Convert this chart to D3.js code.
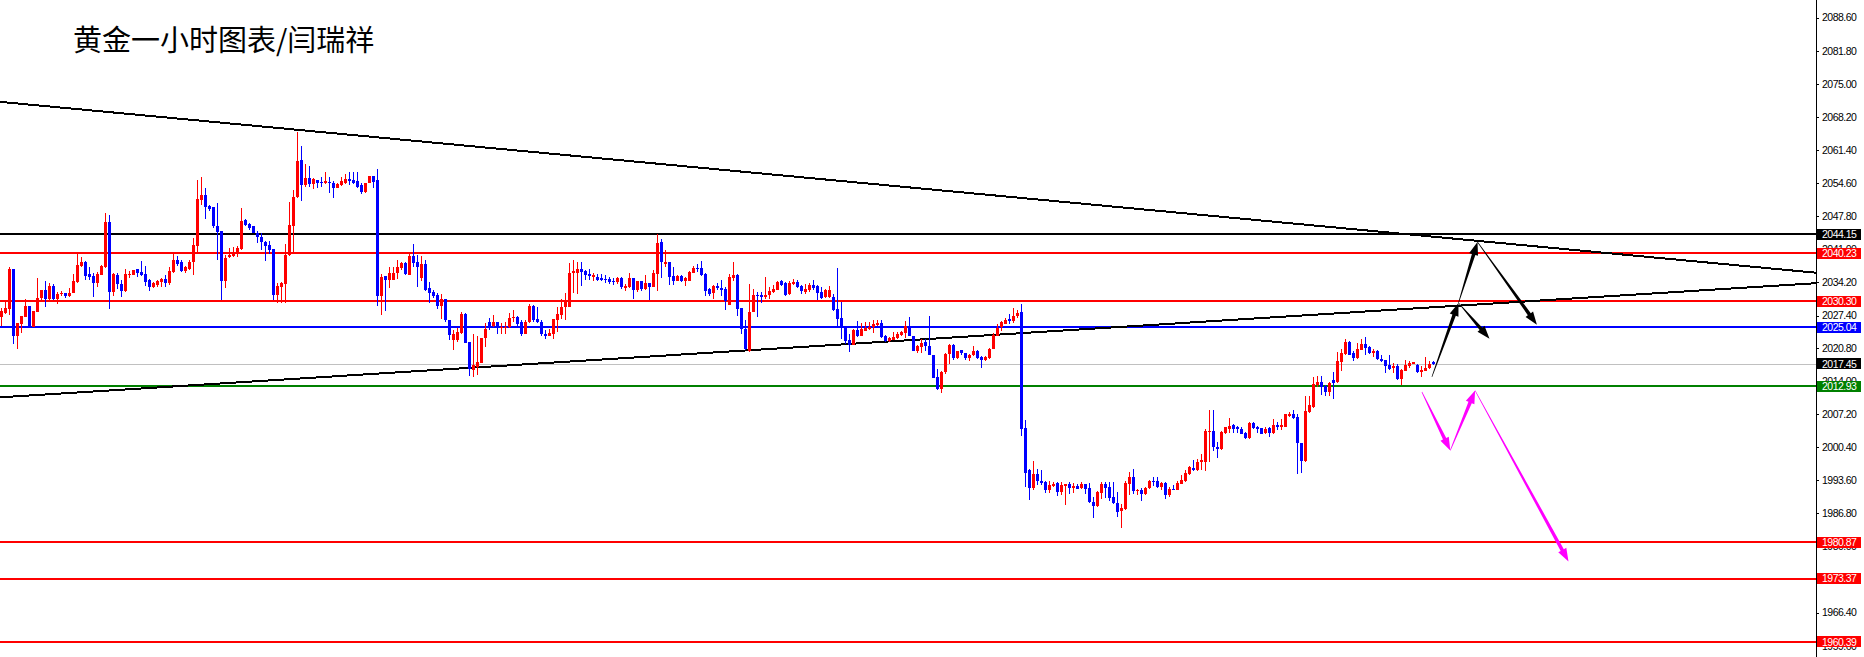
<!DOCTYPE html>
<html><head><meta charset="utf-8">
<script src="https://cdn.jsdelivr.net/npm/d3@7"></script>
<style>html,body{margin:0;padding:0;background:#fff;overflow:hidden}</style>
</head><body><svg id="c" width="1864" height="657"></svg>
<script>
const title = "黄金一小时图表/闫瑞祥";

const openP = [
2027.2,2028.0,2028.7,2037.0,2023.1,2025.7,2027.2,2029.4,2025.1,2028.1,
2031.0,2032.6,2030.8,2033.5,2030.8,2031.8,2032.1,2031.4,2032.0,2034.3,
2037.6,2038.3,2035.9,2035.5,2034.0,2035.8,2037.4,2046.7,2032.3,2035.7,
2033.9,2032.5,2035.7,2035.8,2036.9,2036.3,2035.9,2034.8,2033.3,2033.7,
2034.2,2035.0,2034.0,2036.3,2038.9,2038.3,2036.6,2037.0,2038.3,2041.7,
2051.1,2052.2,2049.9,2049.6,2045.8,2044.8,2034.5,2039.4,2039.6,2040.2,
2041.0,2047.0,2046.2,2045.7,2044.4,2043.6,2042.6,2041.9,2041.0,2031.7,
2033.2,2033.9,2039.8,2045.8,2051.7,2059.4,2054.2,2055.6,2054.4,2055.2,
2054.9,2054.7,2054.9,2054.7,2053.5,2054.2,2054.6,2055.5,2055.2,2055.1,
2054.2,2052.8,2054.6,2056.1,2055.2,2031.5,2035.5,2034.7,2034.8,2036.1,
2037.1,2038.1,2035.7,2039.6,2038.5,2035.1,2038.0,2033.0,2032.3,2031.6,
2029.4,2030.9,2026.5,2022.4,2022.4,2023.9,2027.7,2022.0,2016.2,2016.9,
2017.6,2022.7,2026.1,2025.3,2026.0,2024.8,2024.8,2025.1,2026.8,2027.2,
2026.1,2023.6,2026.1,2029.4,2026.6,2026.1,2023.7,2023.2,2023.6,2026.5,
2027.5,2029.1,2029.1,2036.1,2036.2,2036.9,2036.6,2035.9,2035.3,2035.4,
2035.2,2035.0,2034.9,2034.4,2034.2,2035.2,2033.0,2033.3,2035.2,2032.7,
2034.4,2032.9,2034.0,2033.3,2035.9,2042.6,2038.0,2038.5,2035.5,2034.6,
2035.6,2034.6,2034.6,2036.2,2037.2,2037.2,2035.9,2032.8,2032.0,2033.5,
2033.1,2032.8,2029.5,2035.2,2035.8,2028.9,2024.7,2020.2,2028.1,2031.7,
2031.7,2031.3,2031.7,2032.2,2032.6,2034.4,2034.1,2031.9,2033.8,2034.3,
2033.4,2032.2,2032.6,2033.6,2033.4,2032.2,2031.2,2031.2,2031.3,2028.7,
2026.9,2025.0,2022.3,2021.3,2024.5,2023.3,2024.3,2024.7,2025.0,2025.4,
2025.8,2023.1,2022.2,2022.4,2022.8,2023.5,2023.8,2025.3,2023.3,2020.2,
2020.9,2021.9,2021.2,2019.2,2014.8,2012.4,2015.8,2019.5,2021.3,2018.7,
2020.3,2019.7,2018.7,2019.2,2020.1,2018.9,2018.2,2018.7,2020.6,2023.3,
2025.0,2025.7,2026.6,2026.3,2027.3,2028.1,2004.3,1995.6,1992.0,1994.8,
1993.5,1993.3,1991.5,1992.4,1993.1,1991.1,1992.4,1992.7,1992.0,1992.4,
1992.0,1992.7,1992.0,1989.2,1988.3,1990.9,1992.9,1992.2,1990.1,1989.0,
1987.2,1987.6,1992.9,1994.2,1991.3,1991.6,1990.7,1992.0,1993.5,1993.5,
1992.2,1993.0,1990.5,1991.8,1991.6,1992.9,1993.5,1994.8,1996.1,1995.6,
1997.3,1997.3,2003.5,2003.6,2000.5,1999.9,2003.3,2004.2,2005.0,2004.5,
2004.1,2003.3,2002.3,2005.3,2004.5,2004.3,2003.3,2004.3,2003.3,2005.0,
2004.6,2004.6,2006.8,2007.1,2006.6,2001.3,1997.6,2007.6,2008.7,2013.1,
2013.7,2012.9,2011.7,2014.1,2013.7,2017.9,2019.6,2022.0,2019.7,2018.7,
2020.4,2021.5,2020.9,2019.7,2020.1,2018.5,2018.2,2017.2,2016.6,2017.0,
2014.4,2016.1,2017.0,2017.5,2017.2,2015.8,2016.1,2016.6,2017.9];

const highP = [
2028.9,2030.2,2037.4,2037.0,2025.9,2027.3,2030.9,2029.4,2028.4,2035.1,
2032.6,2034.5,2034.0,2033.9,2032.3,2032.5,2032.1,2033.0,2035.9,2040.0,
2039.5,2038.7,2037.4,2036.1,2036.4,2037.8,2048.4,2048.1,2036.1,2036.1,
2034.7,2036.9,2036.6,2036.8,2037.0,2038.6,2037.6,2035.0,2034.2,2034.7,
2035.1,2035.7,2037.4,2040.2,2039.6,2038.8,2037.6,2038.8,2043.3,2055.2,
2055.8,2053.5,2050.1,2049.6,2050.6,2044.8,2039.8,2041.2,2041.5,2041.7,
2049.4,2047.3,2046.5,2045.8,2044.8,2044.3,2042.8,2042.8,2041.0,2034.0,
2034.3,2042.0,2050.8,2053.1,2065.0,2062.2,2058.5,2058.1,2055.6,2055.2,
2055.9,2056.8,2055.9,2055.1,2054.7,2055.8,2056.5,2056.8,2056.8,2056.8,
2054.6,2054.7,2056.1,2056.1,2057.5,2035.9,2035.6,2037.4,2037.4,2038.8,
2038.5,2038.5,2040.2,2042.1,2039.8,2039.6,2038.8,2034.3,2032.6,2032.0,
2031.8,2030.9,2026.5,2024.4,2024.8,2028.2,2028.0,2022.0,2023.7,2023.1,
2022.7,2025.8,2026.8,2027.5,2026.1,2025.8,2026.1,2028.0,2028.5,2027.3,
2026.5,2026.4,2029.8,2029.6,2029.1,2026.4,2024.4,2024.6,2026.6,2029.2,
2030.9,2032.0,2038.1,2038.8,2038.5,2038.3,2036.8,2036.9,2036.1,2035.9,
2035.9,2035.7,2035.4,2035.1,2035.4,2035.4,2033.9,2036.2,2035.2,2034.6,
2034.4,2035.7,2034.0,2036.8,2044.2,2043.1,2040.9,2038.5,2037.4,2035.7,
2035.7,2035.4,2036.6,2037.6,2038.0,2038.7,2036.1,2033.0,2033.6,2034.0,
2034.8,2033.2,2036.0,2038.3,2036.0,2028.9,2026.4,2033.9,2032.9,2032.2,
2032.2,2035.3,2033.2,2033.6,2034.5,2034.8,2034.3,2034.6,2035.0,2034.8,
2033.6,2033.9,2034.1,2034.8,2033.7,2033.2,2032.9,2033.4,2031.9,2037.1,
2030.2,2025.2,2023.7,2024.6,2026.2,2025.8,2026.1,2026.1,2026.5,2026.4,
2026.4,2023.4,2023.0,2024.0,2024.0,2024.3,2026.3,2027.1,2023.3,2021.3,
2022.6,2022.6,2027.4,2019.2,2016.5,2016.1,2019.7,2021.5,2021.5,2020.2,
2020.4,2019.7,2019.6,2021.1,2020.3,2019.0,2019.0,2020.7,2023.9,2025.6,
2026.3,2027.0,2027.8,2029.0,2028.6,2029.7,2005.9,1995.9,1997.6,1995.8,
1995.6,1993.5,1993.5,1993.3,1993.2,1993.2,1992.9,1993.2,1993.0,1992.9,
1993.2,1992.9,1993.0,1990.1,1991.3,1993.2,1993.2,1993.2,1993.2,1991.1,
1988.7,1993.5,1995.3,1995.9,1991.8,1992.0,1992.2,1993.7,1994.2,1994.2,
1993.2,1993.2,1992.2,1992.6,1993.4,1994.6,1995.7,1996.4,1997.8,1998.0,
1999.0,2004.2,2008.1,2007.9,2001.4,2003.7,2004.6,2006.3,2005.2,2004.8,
2004.5,2003.5,2005.5,2005.5,2004.8,2004.4,2004.6,2004.6,2006.2,2005.5,
2006.1,2007.2,2007.6,2007.9,2007.2,2001.3,2010.8,2010.8,2014.8,2014.9,
2014.9,2013.1,2013.7,2015.9,2019.9,2020.5,2022.6,2022.2,2020.1,2021.8,
2022.6,2023.0,2021.1,2020.5,2020.3,2019.2,2018.3,2019.2,2017.6,2017.4,
2016.5,2018.3,2018.1,2017.9,2017.5,2017.0,2018.9,2018.1,2018.1];

const lowP = [
2025.2,2027.8,2027.6,2021.5,2020.5,2023.9,2027.2,2025.1,2025.1,2028.1,
2030.6,2029.2,2030.6,2030.6,2029.7,2031.4,2031.1,2031.3,2032.0,2034.0,
2037.4,2034.8,2034.7,2031.3,2033.3,2035.7,2037.1,2028.8,2031.4,2032.8,
2031.3,2032.3,2035.2,2035.7,2035.4,2035.6,2033.5,2032.5,2033.0,2033.3,
2033.3,2033.3,2033.7,2036.1,2037.6,2036.3,2036.1,2036.8,2035.7,2040.5,
2050.2,2047.2,2048.9,2045.3,2038.9,2030.6,2033.1,2039.2,2039.5,2039.4,
2040.9,2045.8,2045.0,2044.3,2042.4,2040.9,2038.7,2040.0,2030.6,2029.9,
2030.0,2030.0,2039.6,2040.2,2051.5,2050.9,2053.9,2053.9,2053.3,2053.5,
2053.9,2054.4,2052.6,2051.6,2053.5,2054.0,2054.4,2054.2,2054.4,2053.5,
2052.4,2052.5,2054.6,2053.5,2029.4,2027.5,2028.4,2033.0,2034.7,2035.0,
2036.8,2035.7,2035.7,2037.4,2033.3,2034.4,2032.5,2030.0,2031.1,2028.7,
2026.6,2026.1,2022.4,2020.3,2022.0,2023.7,2021.7,2015.0,2014.8,2015.2,
2017.6,2021.0,2024.4,2025.1,2023.6,2023.7,2023.6,2024.8,2026.1,2025.1,
2023.2,2023.6,2025.9,2026.1,2025.9,2023.2,2022.6,2023.1,2022.6,2024.1,
2026.6,2026.5,2029.1,2032.0,2031.8,2033.5,2034.7,2034.8,2034.6,2034.4,
2034.6,2034.0,2033.9,2033.7,2033.9,2032.8,2032.5,2033.1,2030.9,2032.3,
2032.5,2032.7,2030.6,2033.2,2032.5,2035.1,2037.4,2033.7,2033.7,2034.4,
2034.2,2033.5,2034.4,2036.1,2036.4,2035.6,2031.4,2031.4,2030.9,2032.7,
2031.5,2028.5,2029.5,2034.5,2027.4,2023.7,2020.4,2019.9,2028.1,2027.2,
2030.0,2030.8,2030.8,2032.0,2032.6,2033.4,2031.5,2031.7,2033.6,2033.1,
2031.9,2031.9,2032.2,2032.7,2030.5,2030.8,2031.1,2031.1,2028.3,2025.0,
2022.6,2021.6,2019.9,2021.3,2023.0,2023.1,2024.2,2024.5,2023.8,2025.2,
2022.8,2021.9,2021.9,2022.3,2022.6,2023.1,2022.8,2023.1,2020.1,2019.7,
2019.7,2020.1,2019.2,2014.6,2012.2,2011.5,2015.4,2017.4,2018.3,2018.5,
2019.4,2018.2,2018.1,2019.0,2018.5,2016.6,2018.1,2018.5,2020.5,2023.1,
2024.2,2025.6,2025.6,2025.9,2027.0,2002.6,1992.2,1989.6,1991.5,1992.5,
1992.5,1990.9,1990.9,1992.2,1990.3,1990.5,1988.5,1990.8,1990.9,1991.7,
1991.8,1990.8,1989.0,1985.9,1988.1,1989.8,1990.0,1989.4,1988.6,1986.1,
1983.7,1987.4,1990.5,1990.7,1990.5,1989.3,1990.5,1991.8,1992.3,1992.0,
1991.6,1989.8,1990.1,1991.5,1991.5,1992.7,1993.2,1994.6,1995.5,1995.5,
1995.6,1995.5,1997.3,1999.6,1998.2,1999.7,2003.1,2003.3,2003.3,2003.3,
2003.0,2002.1,2002.1,2004.1,2003.3,2003.0,2003.1,2002.4,2003.1,2003.8,
2003.8,2004.5,2006.6,2006.2,1994.8,1995.0,1997.3,2007.4,2008.5,2012.7,
2011.0,2010.9,2010.9,2010.2,2013.5,2016.0,2019.4,2019.2,2018.1,2018.5,
2020.3,2019.4,2019.6,2018.9,2018.3,2017.9,2015.6,2016.3,2015.6,2014.2,
2013.1,2016.0,2016.7,2017.4,2015.6,2014.8,2016.0,2016.5,2017.2];

const closeP = [
2028.4,2029.0,2037.0,2023.1,2025.9,2027.3,2029.4,2025.1,2028.4,2031.0,
2032.6,2030.8,2033.5,2030.8,2031.8,2032.1,2031.5,2032.0,2034.4,2037.8,
2038.3,2035.6,2035.4,2034.0,2035.9,2037.6,2046.7,2032.3,2035.9,2033.8,
2032.5,2035.9,2035.9,2036.7,2036.1,2035.7,2034.3,2033.3,2034.0,2034.5,
2034.9,2034.0,2036.5,2038.9,2038.0,2036.6,2037.3,2038.5,2041.9,2051.3,
2052.2,2049.8,2049.2,2045.8,2044.6,2034.5,2039.3,2039.8,2040.3,2041.3,
2046.8,2046.0,2045.3,2044.4,2043.5,2042.6,2041.7,2040.9,2031.7,2033.5,
2034.0,2039.8,2045.9,2051.7,2059.2,2054.2,2055.6,2054.4,2055.5,2054.7,
2054.7,2055.0,2054.6,2053.5,2054.4,2055.1,2055.5,2055.0,2054.7,2053.9,
2052.8,2054.6,2056.1,2054.9,2031.5,2035.4,2034.7,2036.1,2036.2,2037.4,
2038.1,2035.9,2039.6,2038.1,2037.3,2038.0,2032.6,2032.0,2031.4,2029.4,
2030.9,2026.5,2023.4,2023.7,2024.1,2027.7,2021.8,2016.5,2017.2,2017.9,
2022.7,2024.6,2025.1,2026.1,2024.8,2025.0,2025.1,2026.8,2027.2,2025.7,
2023.6,2026.1,2029.4,2026.4,2026.1,2023.6,2023.3,2023.9,2026.6,2027.7,
2029.2,2030.6,2036.2,2036.6,2037.0,2036.4,2035.7,2035.5,2035.7,2034.8,
2034.8,2034.7,2034.2,2034.2,2035.2,2033.2,2033.5,2035.2,2032.7,2034.4,
2032.9,2034.0,2033.3,2036.2,2042.4,2038.3,2038.3,2035.4,2034.6,2035.5,
2034.6,2035.2,2036.4,2037.2,2037.0,2035.7,2032.5,2031.8,2033.5,2033.0,
2032.6,2030.4,2035.3,2035.8,2028.8,2024.7,2020.6,2028.1,2031.7,2031.4,
2031.3,2031.7,2032.4,2032.8,2034.2,2033.7,2031.7,2034.1,2034.3,2033.2,
2032.4,2032.8,2033.6,2033.1,2032.1,2031.1,2032.6,2032.7,2028.5,2026.6,
2024.9,2022.2,2021.3,2024.5,2023.3,2024.7,2024.9,2025.0,2025.6,2025.8,
2023.0,2022.2,2022.8,2023.0,2023.7,2024.0,2025.3,2023.3,2020.2,2021.1,
2021.7,2021.1,2019.2,2014.6,2012.4,2015.9,2019.5,2021.3,2018.7,2020.2,
2019.7,2018.7,2019.4,2020.1,2018.7,2018.3,2018.9,2020.6,2023.5,2024.9,
2026.0,2026.4,2026.3,2027.4,2028.0,2004.2,1995.0,1992.0,1994.8,1993.4,
1993.1,1991.5,1992.5,1992.9,1991.1,1992.5,1992.7,1992.0,1992.4,1991.8,
1992.9,1991.8,1989.1,1988.3,1991.1,1992.9,1992.0,1990.0,1988.9,1987.0,
1987.8,1993.0,1994.2,1991.3,1991.6,1990.7,1992.0,1993.5,1993.4,1992.2,
1993.0,1990.6,1991.8,1991.5,1993.1,1993.7,1995.0,1996.2,1995.6,1997.4,
1997.8,2003.6,2003.6,2000.5,2000.0,2003.5,2004.5,2004.8,2004.1,2004.0,
2003.1,2002.3,2005.3,2004.3,2004.2,2003.1,2004.2,2003.3,2005.0,2004.6,
2005.0,2007.1,2007.1,2006.4,2001.2,1997.5,2007.7,2009.0,2013.3,2013.7,
2012.7,2011.7,2013.5,2013.5,2018.0,2019.7,2022.0,2019.4,2018.7,2020.5,
2021.5,2020.7,2019.7,2020.1,2018.4,2018.1,2017.0,2016.5,2017.0,2014.4,
2016.3,2017.2,2017.6,2017.8,2015.8,2016.3,2016.7,2017.4,2017.45];

const tickValues = [2088.60,2081.80,2075.00,2068.20,2061.40,2054.60,2047.80,2041.00,2034.20,2027.40,
  2020.80,2014.00,2007.20,2000.40,1993.60,1986.80,1980.00,1973.20,1966.40,1959.60];

const levelValues = [2044.15, 2040.23, 2030.30, 2025.04, 2017.45, 2012.93, 1980.87, 1973.37, 1960.39];
const levelNames  = ["resistB", "resist1", "resist2", "pivot", "bid", "support", "target1", "target2", "target3"];

// trend lines: [bar index, price] pairs
const trendDown = [[-0.375, 2071.3], [453.625, 2036.2]];
const trendUp   = [[-0.375, 2010.6], [453.625, 2034.05]];

// forecast arrows: [fromIndex, fromPrice, toIndex, toPrice]
const blackArrows = [
  [357.6, 2014.8, 364.25, 2030.0],
  [364.25, 2030.0, 369.0, 2042.5],
  [369.0, 2042.5, 383.85, 2025.5],
  [364.25, 2030.0, 372.0, 2022.65]
];
const magentaArrows = [
  [355.1, 2011.7, 362.2, 1999.7],
  [362.2, 1999.7, 368.4, 2012.0],
  [368.4, 2012.0, 391.75, 1976.9]
];

// ---------- drawing ----------
const W = 1864, H = 657, axisX = 1816;
const N = closeP.length;
const svg = d3.select("#c");
const x = d3.scaleLinear().domain([0, N - 1]).range([1.5, 1.5 + 4 * (N - 1)]);
const y = d3.scaleLinear().domain([1960.39, 2088.60]).range([641.8, 17.6]);

const levelStyle = {
  resistB: {stroke: "#000000", w: 2, box: "#000000"},
  resist1: {stroke: "#ff0000", w: 2, box: "#ff0000"},
  resist2: {stroke: "#ff0000", w: 2, box: "#ff0000"},
  pivot:   {stroke: "#0000ff", w: 2, box: "#0000ff"},
  bid:     {stroke: "#c0c0c0", w: 1, box: "#000000"},
  support: {stroke: "#008000", w: 2, box: "#008000"},
  target1: {stroke: "#ff0000", w: 2, box: "#ff0000"},
  target2: {stroke: "#ff0000", w: 2, box: "#ff0000"},
  target3: {stroke: "#ff0000", w: 2, box: "#ff0000"}
};

// title
svg.append("text").attr("x", 73).attr("y", 51)
  .attr("font-family", "'Noto Sans CJK SC','Noto Sans CJK JP',sans-serif")
  .attr("font-size", 29).attr("fill", "#000").text(title);

// horizontal levels
const levels = svg.append("g").attr("shape-rendering", "crispEdges");
levelValues.forEach((v, k) => {
  const s = levelStyle[levelNames[k]];
  const yy = s.w === 2 ? Math.round(y(v)) : Math.round(y(v)) + 0.5;
  levels.append("line").attr("x1", 0).attr("x2", axisX)
    .attr("y1", yy).attr("y2", yy)
    .attr("stroke", s.stroke).attr("stroke-width", s.w);
});

// trend lines
const lineGen = d3.line().x(d => x(d[0])).y(d => y(d[1]));
[trendDown, trendUp].forEach(t => {
  svg.append("path").attr("d", lineGen(t)).attr("fill", "none")
    .attr("stroke", "#000").attr("stroke-width", 2).attr("shape-rendering", "crispEdges");
});

// candles
const idx = d3.range(N);
const col = i => closeP[i] >= openP[i] ? "#ff0000" : "#0000ff";
const cg = svg.append("g").attr("shape-rendering", "crispEdges");
cg.selectAll("rect.w").data(idx).join("rect").attr("class", "w")
  .attr("x", i => Math.round(x(i) - 0.5)).attr("width", 1)
  .attr("y", i => y(highP[i]))
  .attr("height", i => Math.max(1, y(lowP[i]) - y(highP[i])))
  .attr("fill", col);
cg.selectAll("rect.b").data(idx).join("rect").attr("class", "b")
  .attr("x", i => Math.round(x(i) - 1.5)).attr("width", 3)
  .attr("y", i => y(Math.max(openP[i], closeP[i])))
  .attr("height", i => Math.max(1, Math.abs(y(openP[i]) - y(closeP[i]))))
  .attr("fill", col);

// arrows
function arrowPath(a) {
  const x0 = x(a[0]), y0 = y(a[1]), x1 = x(a[2]), y1 = y(a[3]);
  const dx = x1 - x0, dy = y1 - y0, L = Math.hypot(dx, dy);
  const ux = dx / L, uy = dy / L, nx = -uy, ny = ux;
  const hl = 13, hw = 4.6, sw = 1.8, tw = 0.3;
  const bx = x1 - ux * hl, by = y1 - uy * hl;
  const pts = [[x0 + nx * tw, y0 + ny * tw], [bx + nx * sw, by + ny * sw], [bx + nx * hw, by + ny * hw],
    [x1, y1], [bx - nx * hw, by - ny * hw], [bx - nx * sw, by - ny * sw], [x0 - nx * tw, y0 - ny * tw]];
  return d3.line()(pts) + "Z";
}
svg.append("g").selectAll("path").data(blackArrows).join("path")
  .attr("d", arrowPath).attr("fill", "#000");
svg.append("g").selectAll("path").data(magentaArrows).join("path")
  .attr("d", arrowPath).attr("fill", "#ff00ff");

// right price axis
const axis = d3.axisRight(y).tickValues(tickValues).tickFormat(d3.format(".2f")).tickSize(3).tickPadding(3);
const ag = svg.append("g").attr("transform", `translate(${axisX},0)`).call(axis);
ag.select(".domain").remove();
ag.selectAll("text").attr("font-family", "'Liberation Sans',Arial,sans-serif").attr("font-size", 10.5)
  .attr("letter-spacing", "-0.5").attr("fill", "#000");
ag.selectAll("line").attr("stroke", "#000").attr("shape-rendering", "crispEdges");
svg.append("line").attr("x1", axisX + 0.5).attr("x2", axisX + 0.5).attr("y1", 0).attr("y2", H)
  .attr("stroke", "#000").attr("stroke-width", 1);

// price labels
const pl = svg.append("g");
levelValues.forEach((v, k) => {
  const s = levelStyle[levelNames[k]];
  pl.append("rect").attr("x", axisX + 1).attr("y", Math.round(y(v) - 5.5)).attr("width", 44).attr("height", 11)
    .attr("fill", s.box).attr("shape-rendering", "crispEdges");
  pl.append("text").attr("x", axisX + 6).attr("y", y(v)).attr("dy", "0.36em")
    .attr("font-family", "'Liberation Sans',Arial,sans-serif").attr("font-size", 10.5)
    .attr("letter-spacing", "-0.5").attr("fill", "#fff").text(d3.format(".2f")(v));
});
</script></body></html>
